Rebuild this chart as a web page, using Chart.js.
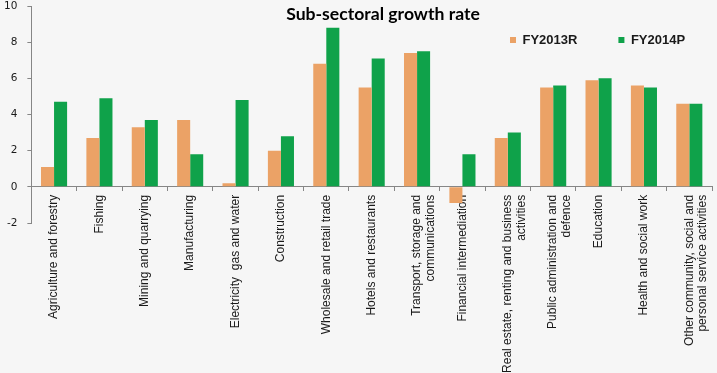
<!DOCTYPE html>
<html>
<head>
<meta charset="utf-8">
<script src="https://cdn.jsdelivr.net/npm/chart.js@4.4.1/dist/chart.umd.min.js"></script>
<style>
  html, body { margin: 0; padding: 0; background: #f6f6f6; }
  #wrap { width: 717px; height: 373px; position: relative; }
</style>
</head>
<body>
<div id="wrap"><canvas id="c"></canvas></div>
<script>
// ---- data ----
const CATEGORIES = [
  "Agriculture and forestry",
  "Fishing",
  "Mining and quarrying",
  "Manufacturing",
  "Electricity  gas and water",
  "Construction",
  "Wholesale and retail trade",
  "Hotels and restaurants",
  ["Transport, storage and", "communications"],
  "Financial intermediation",
  ["Real estate, renting and business", "activities"],
  ["Public administration and", "defence"],
  "Education",
  "Health and social work",
  ["Other community, social and", "personal service activities"]
];
const SERIES_NAMES = ["FY2013R", "FY2014P"];
const FY2013R = [1.1, 2.7, 3.3, 3.7, 0.2, 2.0, 6.8, 5.5, 7.4, -0.9, 2.7, 5.5, 5.9, 5.6, 4.6];
const FY2014P = [4.7, 4.9, 3.7, 1.8, 4.8, 2.8, 8.8, 7.1, 7.5, 1.8, 3.0, 5.6, 6.0, 5.5, 4.6];
const Y_MIN = -2, Y_MAX = 10, Y_STEP = 2;
const TITLE = "Sub-sectoral growth rate";

// ---- styles ----
const ORANGE = "#EBA266";
const GREEN = "#0FA24A";
const AXIS = "#868686";
const TEXT = "#1a1a1a";

// positions the title and legend inside the plot like the original
const placeHeader = {
  id: "placeHeader",
  afterLayout(chart) {
    const t = chart.titleBlock;
    if (t) {
      t.left = 383 - 300; t.right = 383 + 300; t.width = 600;
      t.top = 6; t.bottom = 6; t.height = 0;
    }
    const l = chart.legend;
    if (l) {
      const p = l.options.labels.padding;
      l.left = 510 - p; l.right = 1000; l.width = l.right - l.left;
      l.top = 33.5 - p; l.bottom = l.top + 80; l.height = 80;
    }
  }
};

new Chart(document.getElementById("c"), {
  type: "bar",
  data: {
    labels: CATEGORIES,
    datasets: [
      { label: SERIES_NAMES[0], data: FY2013R, backgroundColor: ORANGE, borderWidth: 0,
        categoryPercentage: 0.575, barPercentage: 1.0 },
      { label: SERIES_NAMES[1], data: FY2014P, backgroundColor: GREEN, borderWidth: 0,
        categoryPercentage: 0.575, barPercentage: 1.0 }
    ]
  },
  options: {
    responsive: true,
    maintainAspectRatio: false,
    animation: false,
    devicePixelRatio: 1,
    layout: { padding: { top: 6, left: -6, right: 5, bottom: 150 } },
    plugins: {
      tooltip: { enabled: false },
      title: {
        display: true,
        text: TITLE,
        color: "#000",
        fullSize: false,
        font: { family: "Lato", size: 17.6, weight: "bold", lineHeight: 1 },
        padding: { top: 0, bottom: -17.6 }
      },
      legend: {
        display: true,
        position: "top",
        align: "start",
        fullSize: false,
        maxHeight: 0.001,
        labels: {
          boxWidth: 6,
          boxHeight: 6,
          padding: 41,
          color: TEXT,
          font: { family: "Liberation Sans", size: 13, weight: "bold" }
        }
      }
    },
    scales: {
      x: {
        type: "category",
        axis: "x",
        position: { y: 0 },
        offset: true,
        border: { display: true, color: AXIS, width: 1 },
        grid: { display: true, drawOnChartArea: false, drawTicks: true, tickLength: 4, offset: true, tickColor: AXIS, color: AXIS },
        ticks: {
          autoSkip: false,
          minRotation: 90,
          maxRotation: 90,
          padding: 4,
          color: TEXT,
          font: { family: "Liberation Sans", size: 12, lineHeight: 1.15 }
        },
        afterFit(scale) {
          scale.paddingLeft = 0;
          scale.paddingRight = 0;
        }
      },
      y: {
        min: Y_MIN,
        max: Y_MAX,
        position: "left",
        border: { display: true, color: AXIS, width: 1 },
        grid: { drawOnChartArea: false, drawTicks: true, tickLength: 4, tickColor: AXIS },
        ticks: {
          stepSize: Y_STEP,
          padding: 10,
          color: TEXT,
          font: { family: "DejaVu Sans", size: 10.5 }
        },
        afterFit(scale) {
          scale.paddingTop = 6;
          scale.paddingBottom = 6;
        }
      }
    }
  },
  plugins: [placeHeader]
});
</script>
</body>
</html>
